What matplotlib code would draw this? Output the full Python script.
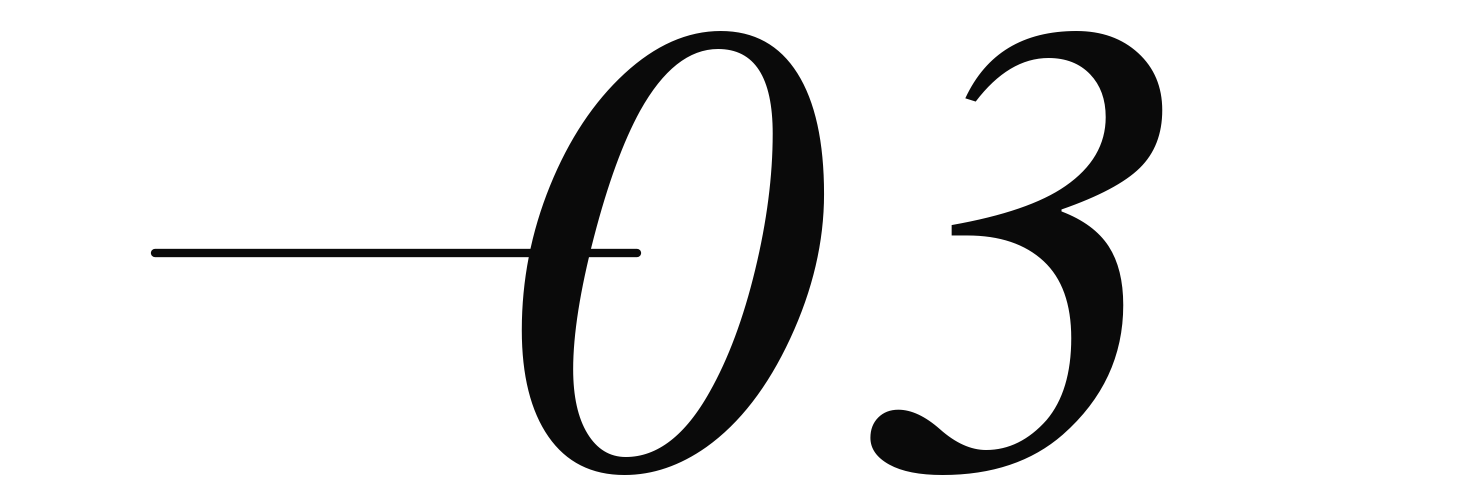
import matplotlib
matplotlib.use("Agg")
import matplotlib.pyplot as plt

line_x = [155, 637]
line_y = [253, 253]
label = "03"
char_x = [500, 860]

fig = plt.figure(figsize=(14.63, 5), dpi=100)
ax = fig.add_axes([0, 0, 1, 1])
ax.set_xlim(0, 1463)
ax.set_ylim(500, 0)
ax.axis("off")

ax.plot(line_x, line_y, color="#0a0a0a", linewidth=6, solid_capstyle="round")
for ch, x in zip(label, char_x):
    ax.text(x, 470, ch, fontsize=468, family="STIXGeneral", style="italic",
            color="#0a0a0a", va="baseline", ha="left")

fig.savefig("out.png", dpi=100, facecolor="white")
